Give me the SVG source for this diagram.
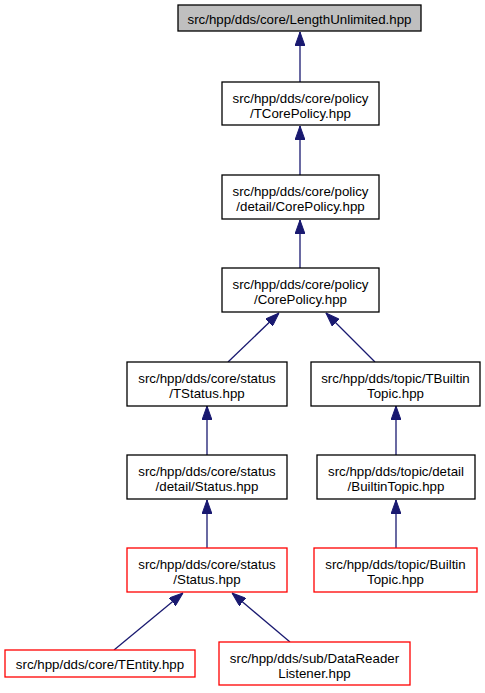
<svg xmlns="http://www.w3.org/2000/svg" width="485" height="693" viewBox="0 0 485 693">
<style>
  .n rect { fill: #ffffff; stroke: #000000; stroke-width: 1.3; }
  .n.root rect { fill: #bfbfbf; }
  .n.red rect { stroke: #ff0000; }
  .n text { font-family: "Liberation Sans", Arial, Helvetica, sans-serif; font-size: 13.3px; fill: #000000; text-anchor: middle; }
  .e path { fill: none; stroke: #191970; stroke-width: 1.3; marker-end: url(#ah); }
</style>
<defs>
  <marker id="ah" markerUnits="userSpaceOnUse" markerWidth="14" markerHeight="10" refX="14" refY="5" orient="auto">
    <path d="M0,0 L14,5 L0,10 Z" fill="#191970" stroke="#191970" stroke-width="1"/>
  </marker>
</defs>
<rect x="0" y="0" width="485" height="693" fill="#ffffff"/>
<g id="edges" class="e">
  <path d="M300,82 L300,32"/>
  <path d="M300,175 L300,126"/>
  <path d="M300,268 L300,220"/>
  <path d="M228,362 L279,313"/>
  <path d="M375,362 L326,313"/>
  <path d="M207,455 L207,406"/>
  <path d="M396,455 L396,406"/>
  <path d="M207,548 L207,500"/>
  <path d="M396,548 L396,500"/>
  <path d="M114,650 L183,593"/>
  <path d="M290,642 L232,593"/>
</g>
<g id="n_lengthunlimited" class="n root">
  <rect x="178" y="5" width="243" height="26"/>
  <text x="299.5" y="24">src/hpp/dds/core/LengthUnlimited.hpp</text>
</g>
<g id="n_tcorepolicy" class="n">
  <rect x="222" y="82" width="157" height="43"/>
  <text x="300.5" y="103">src/hpp/dds/core/policy</text>
  <text x="300.5" y="118">/TCorePolicy.hpp</text>
</g>
<g id="n_detail_corepolicy" class="n">
  <rect x="222" y="175" width="157" height="44"/>
  <text x="300.5" y="196">src/hpp/dds/core/policy</text>
  <text x="300.5" y="211">/detail/CorePolicy.hpp</text>
</g>
<g id="n_corepolicy" class="n">
  <rect x="222" y="268" width="157" height="44"/>
  <text x="300.5" y="289">src/hpp/dds/core/policy</text>
  <text x="300.5" y="304">/CorePolicy.hpp</text>
</g>
<g id="n_tstatus" class="n">
  <rect x="127" y="362" width="160" height="44"/>
  <text x="207" y="383">src/hpp/dds/core/status</text>
  <text x="207" y="398">/TStatus.hpp</text>
</g>
<g id="n_tbuiltintopic" class="n">
  <rect x="311" y="362" width="169" height="44"/>
  <text x="395.5" y="383">src/hpp/dds/topic/TBuiltin</text>
  <text x="395.5" y="398">Topic.hpp</text>
</g>
<g id="n_detail_status" class="n">
  <rect x="127" y="455" width="160" height="44"/>
  <text x="207" y="476">src/hpp/dds/core/status</text>
  <text x="207" y="491">/detail/Status.hpp</text>
</g>
<g id="n_detail_builtintopic" class="n">
  <rect x="317" y="455" width="158" height="44"/>
  <text x="396" y="476">src/hpp/dds/topic/detail</text>
  <text x="396" y="491">/BuiltinTopic.hpp</text>
</g>
<g id="n_status" class="n red">
  <rect x="127" y="548" width="160" height="44"/>
  <text x="207" y="569">src/hpp/dds/core/status</text>
  <text x="207" y="584">/Status.hpp</text>
</g>
<g id="n_builtintopic" class="n red">
  <rect x="314" y="548" width="163" height="44"/>
  <text x="395.5" y="569">src/hpp/dds/topic/Builtin</text>
  <text x="395.5" y="584">Topic.hpp</text>
</g>
<g id="n_tentity" class="n red">
  <rect x="5" y="650" width="190" height="27"/>
  <text x="100" y="669">src/hpp/dds/core/TEntity.hpp</text>
</g>
<g id="n_datareaderlistener" class="n red">
  <rect x="219" y="642" width="191" height="43"/>
  <text x="314.5" y="663">src/hpp/dds/sub/DataReader</text>
  <text x="314.5" y="678">Listener.hpp</text>
</g>
</svg>
